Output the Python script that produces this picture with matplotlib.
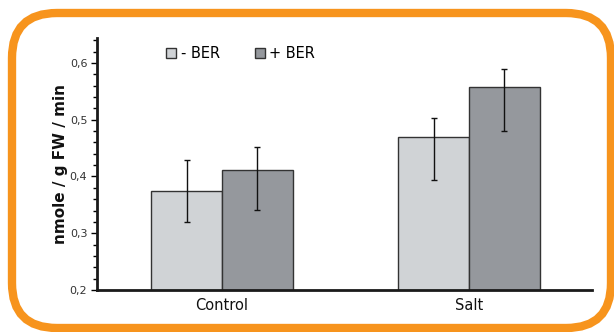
import matplotlib.pyplot as plt
import numpy as np
from matplotlib.patches import FancyBboxPatch
from matplotlib.ticker import MultipleLocator, FuncFormatter

# Data
groups = ["Control", "Salt"]
series = ["- BER", "+ BER"]
minus_ber = [0.375, 0.470]
plus_ber = [0.411, 0.558]
# error bar ends (low, high) as drawn in the figure
minus_lo = [0.319, 0.394]
minus_hi = [0.429, 0.503]
plus_lo = [0.341, 0.480]
plus_hi = [0.452, 0.590]

colors = ["#d0d3d6", "#95989d"]

fig = plt.figure(figsize=(6.14, 3.32), dpi=100)

# Orange rounded frame, drawn in pixel units on a background axes
bg = fig.add_axes([0, 0, 1, 1])
bg.set_xlim(0, 614)
bg.set_ylim(0, 332)
bg.axis('off')
frame = FancyBboxPatch((12, 4), 599, 315, boxstyle="round,pad=0,rounding_size=45",
                       fill=False, edgecolor="#f7941d", linewidth=6)
bg.add_patch(frame)

# Main axes
ax = fig.add_axes([97 / 614, 1 - 290 / 332, (592 - 97) / 614, (290 - 38) / 332])
x = np.arange(len(groups))
w = 0.287
b1 = ax.bar(x - w / 2, minus_ber, w, color=colors[0], edgecolor="#333333", linewidth=1,
            label=series[0])
b2 = ax.bar(x + w / 2, plus_ber, w, color=colors[1], edgecolor="#333333", linewidth=1,
            label=series[1])

minus_yerr = [np.subtract(minus_ber, minus_lo), np.subtract(minus_hi, minus_ber)]
plus_yerr = [np.subtract(plus_ber, plus_lo), np.subtract(plus_hi, plus_ber)]
ax.errorbar(x - w / 2, minus_ber, yerr=minus_yerr, fmt='none', ecolor='#111111',
            elinewidth=1, capsize=2.5, capthick=1)
ax.errorbar(x + w / 2, plus_ber, yerr=plus_yerr, fmt='none', ecolor='#111111',
            elinewidth=1, capsize=2.5, capthick=1)

ax.set_ylim(0.2, 0.644)
ax.set_xlim(-0.506, 1.498)
ax.yaxis.set_major_locator(MultipleLocator(0.1))
ax.yaxis.set_minor_locator(MultipleLocator(0.02))
ax.yaxis.set_major_formatter(FuncFormatter(lambda v, p: f"{v:.1f}".replace('.', ',')))
ax.tick_params(axis='y', which='major', direction='out', length=4, width=1,
               labelsize=8, labelcolor='#333333', pad=3)
ax.tick_params(axis='y', which='minor', direction='out', length=3, width=1)
ax.set_xticks(x)
ax.set_xticklabels(groups, fontsize=10.5, color='#111111')
ax.tick_params(axis='x', length=0, pad=6)

for s in ['top', 'right']:
    ax.spines[s].set_visible(False)
for s in ['left', 'bottom']:
    ax.spines[s].set_linewidth(2)
    ax.spines[s].set_color('#1a1a1a')

ax.set_ylabel("nmole / g FW / min", fontsize=11, fontweight='bold', color='#111111')
ax.yaxis.set_label_coords(-0.058, 0.5)

ax.legend(handles=[b1, b2], labels=series, ncol=2, frameon=False,
          loc='upper left', bbox_to_anchor=(0.113, 1.02), fontsize=10.5,
          handlelength=0.7, handleheight=0.7, handletextpad=0.3, columnspacing=2.4)

fig.savefig("out.png", dpi=100)
